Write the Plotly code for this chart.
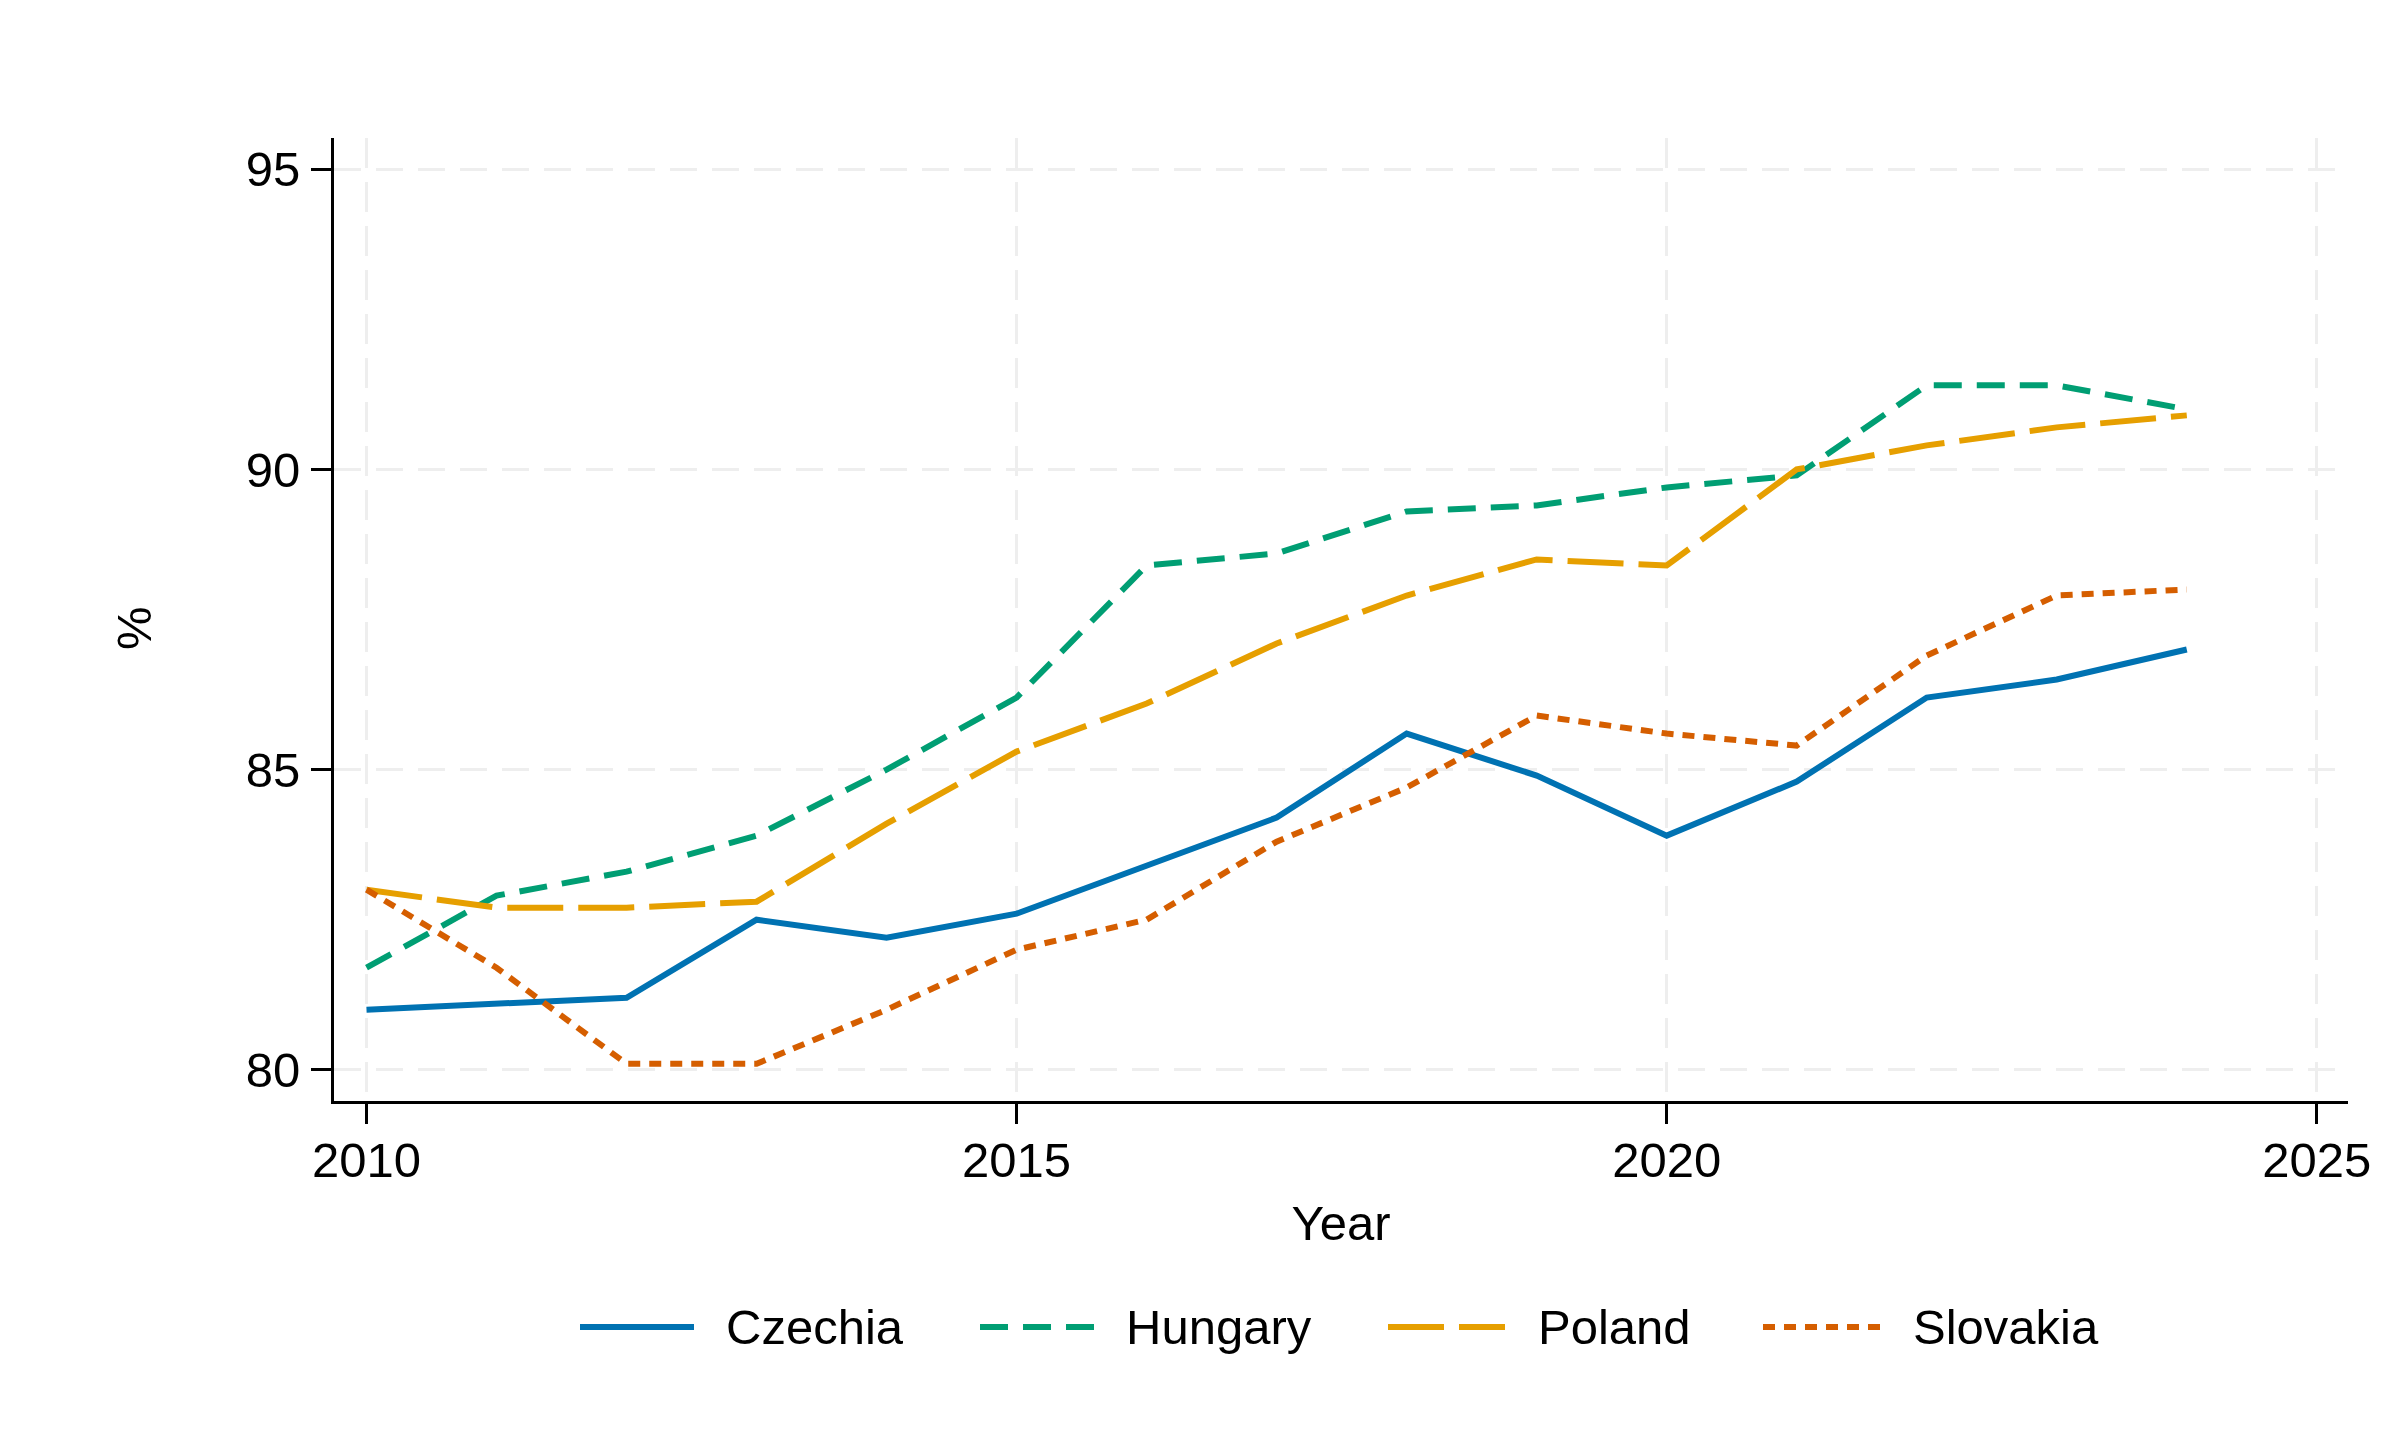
import plotly.graph_objects as go

years = list(range(2010, 2025))
czechia = [81.0, 81.1, 81.2, 82.5, 82.2, 82.6, 83.4, 84.2, 85.6, 84.9, 83.9, 84.8, 86.2, 86.5, 87.0]
hungary = [81.7, 82.9, 83.3, 83.9, 85.0, 86.2, 88.4, 88.6, 89.3, 89.4, 89.7, 89.9, 91.4, 91.4, 91.0]
poland = [83.0, 82.7, 82.7, 82.8, 84.1, 85.3, 86.1, 87.1, 87.9, 88.5, 88.4, 90.0, 90.4, 90.7, 90.9]
slovakia = [83.0, 81.7, 80.1, 80.1, 81.0, 82.0, 82.5, 83.8, 84.7, 85.9, 85.6, 85.4, 86.9, 87.9, 88.0]

x_ticks = [2010, 2015, 2020, 2025]
y_ticks = [80, 85, 90, 95]

series = [
    ("Czechia", czechia, "#0072B2", "solid"),
    ("Hungary", hungary, "#009E73", "28px,15px"),
    ("Poland", poland, "#E69F00", "56px,15px"),
    ("Slovakia", slovakia, "#D55E00", "12px,9px"),
]

FONT = "Liberation Sans, Arial, sans-serif"

# figure geometry (page has an 8px body margin)
W, H = 2392, 1432
ML, MR, MT, MB = 326, 52, 130, 339
PW, PH = W - ML - MR, H - MT - MB


def px_to_paper_x(p):
    return (p - ML) / PW


def px_to_paper_y(p):
    return (H - MB - p) / PH


fig = go.Figure()
for name, vals, color, dash in series:
    fig.add_trace(go.Scatter(
        x=years, y=vals, name=name, mode="lines",
        line=dict(color=color, width=6, dash=dash),
        showlegend=False,
    ))

# manual legend with long line samples (pixel positions within the figure)
legend_y_px = 1319
sample_x_px = [(572, 686), (972, 1086), (1380, 1497), (1755, 1872)]
text_x_px = [716, 1116, 1528, 1903]

ly = px_to_paper_y(legend_y_px)
for (name, vals, color, dash), (sx0, sx1), tx in zip(series, sample_x_px, text_x_px):
    fig.add_shape(
        type="line", xref="paper", yref="paper",
        x0=px_to_paper_x(sx0), x1=px_to_paper_x(sx1), y0=ly, y1=ly,
        line=dict(color=color, width=6, dash=dash),
    )
    fig.add_annotation(
        xref="paper", yref="paper", x=px_to_paper_x(tx), y=ly,
        xanchor="left", yanchor="middle", text=name, showarrow=False,
        font=dict(family=FONT, size=49, color="black"),
    )

# y-axis title
fig.add_annotation(
    xref="paper", yref="paper", x=px_to_paper_x(126), y=px_to_paper_y(620),
    xanchor="center", yanchor="middle", text="%", textangle=-90, showarrow=False,
    font=dict(family=FONT, size=49, color="black"),
)

fig.update_layout(
    width=W, height=H,
    paper_bgcolor="white", plot_bgcolor="white",
    margin=dict(l=ML, r=MR, t=MT, b=MB),
    font=dict(family=FONT, size=49, color="black"),
    showlegend=False,
)

fig.update_xaxes(
    range=[2009.75, 2025.24],
    tickvals=x_ticks, ticktext=[str(v) for v in x_ticks],
    ticks="outside", ticklen=20, tickwidth=3, tickcolor="black",
    showline=True, linecolor="black", linewidth=3,
    showgrid=True, gridcolor="#EEEEEE", gridwidth=3, griddash="30px,14px",
    zeroline=False,
    title=dict(text="Year", standoff=20, font=dict(family=FONT, size=49)),
    ticklabelstandoff=-6,
)
fig.update_yaxes(
    range=[79.48, 95.52],
    tickvals=y_ticks, ticktext=[str(v) for v in y_ticks],
    ticks="outside", ticklen=20, tickwidth=3, tickcolor="black",
    showline=True, linecolor="black", linewidth=3,
    showgrid=True, gridcolor="#EEEEEE", gridwidth=3, griddash="27px,15px",
    zeroline=False,
    ticklabelstandoff=1,
)

fig.write_html("out.html")
